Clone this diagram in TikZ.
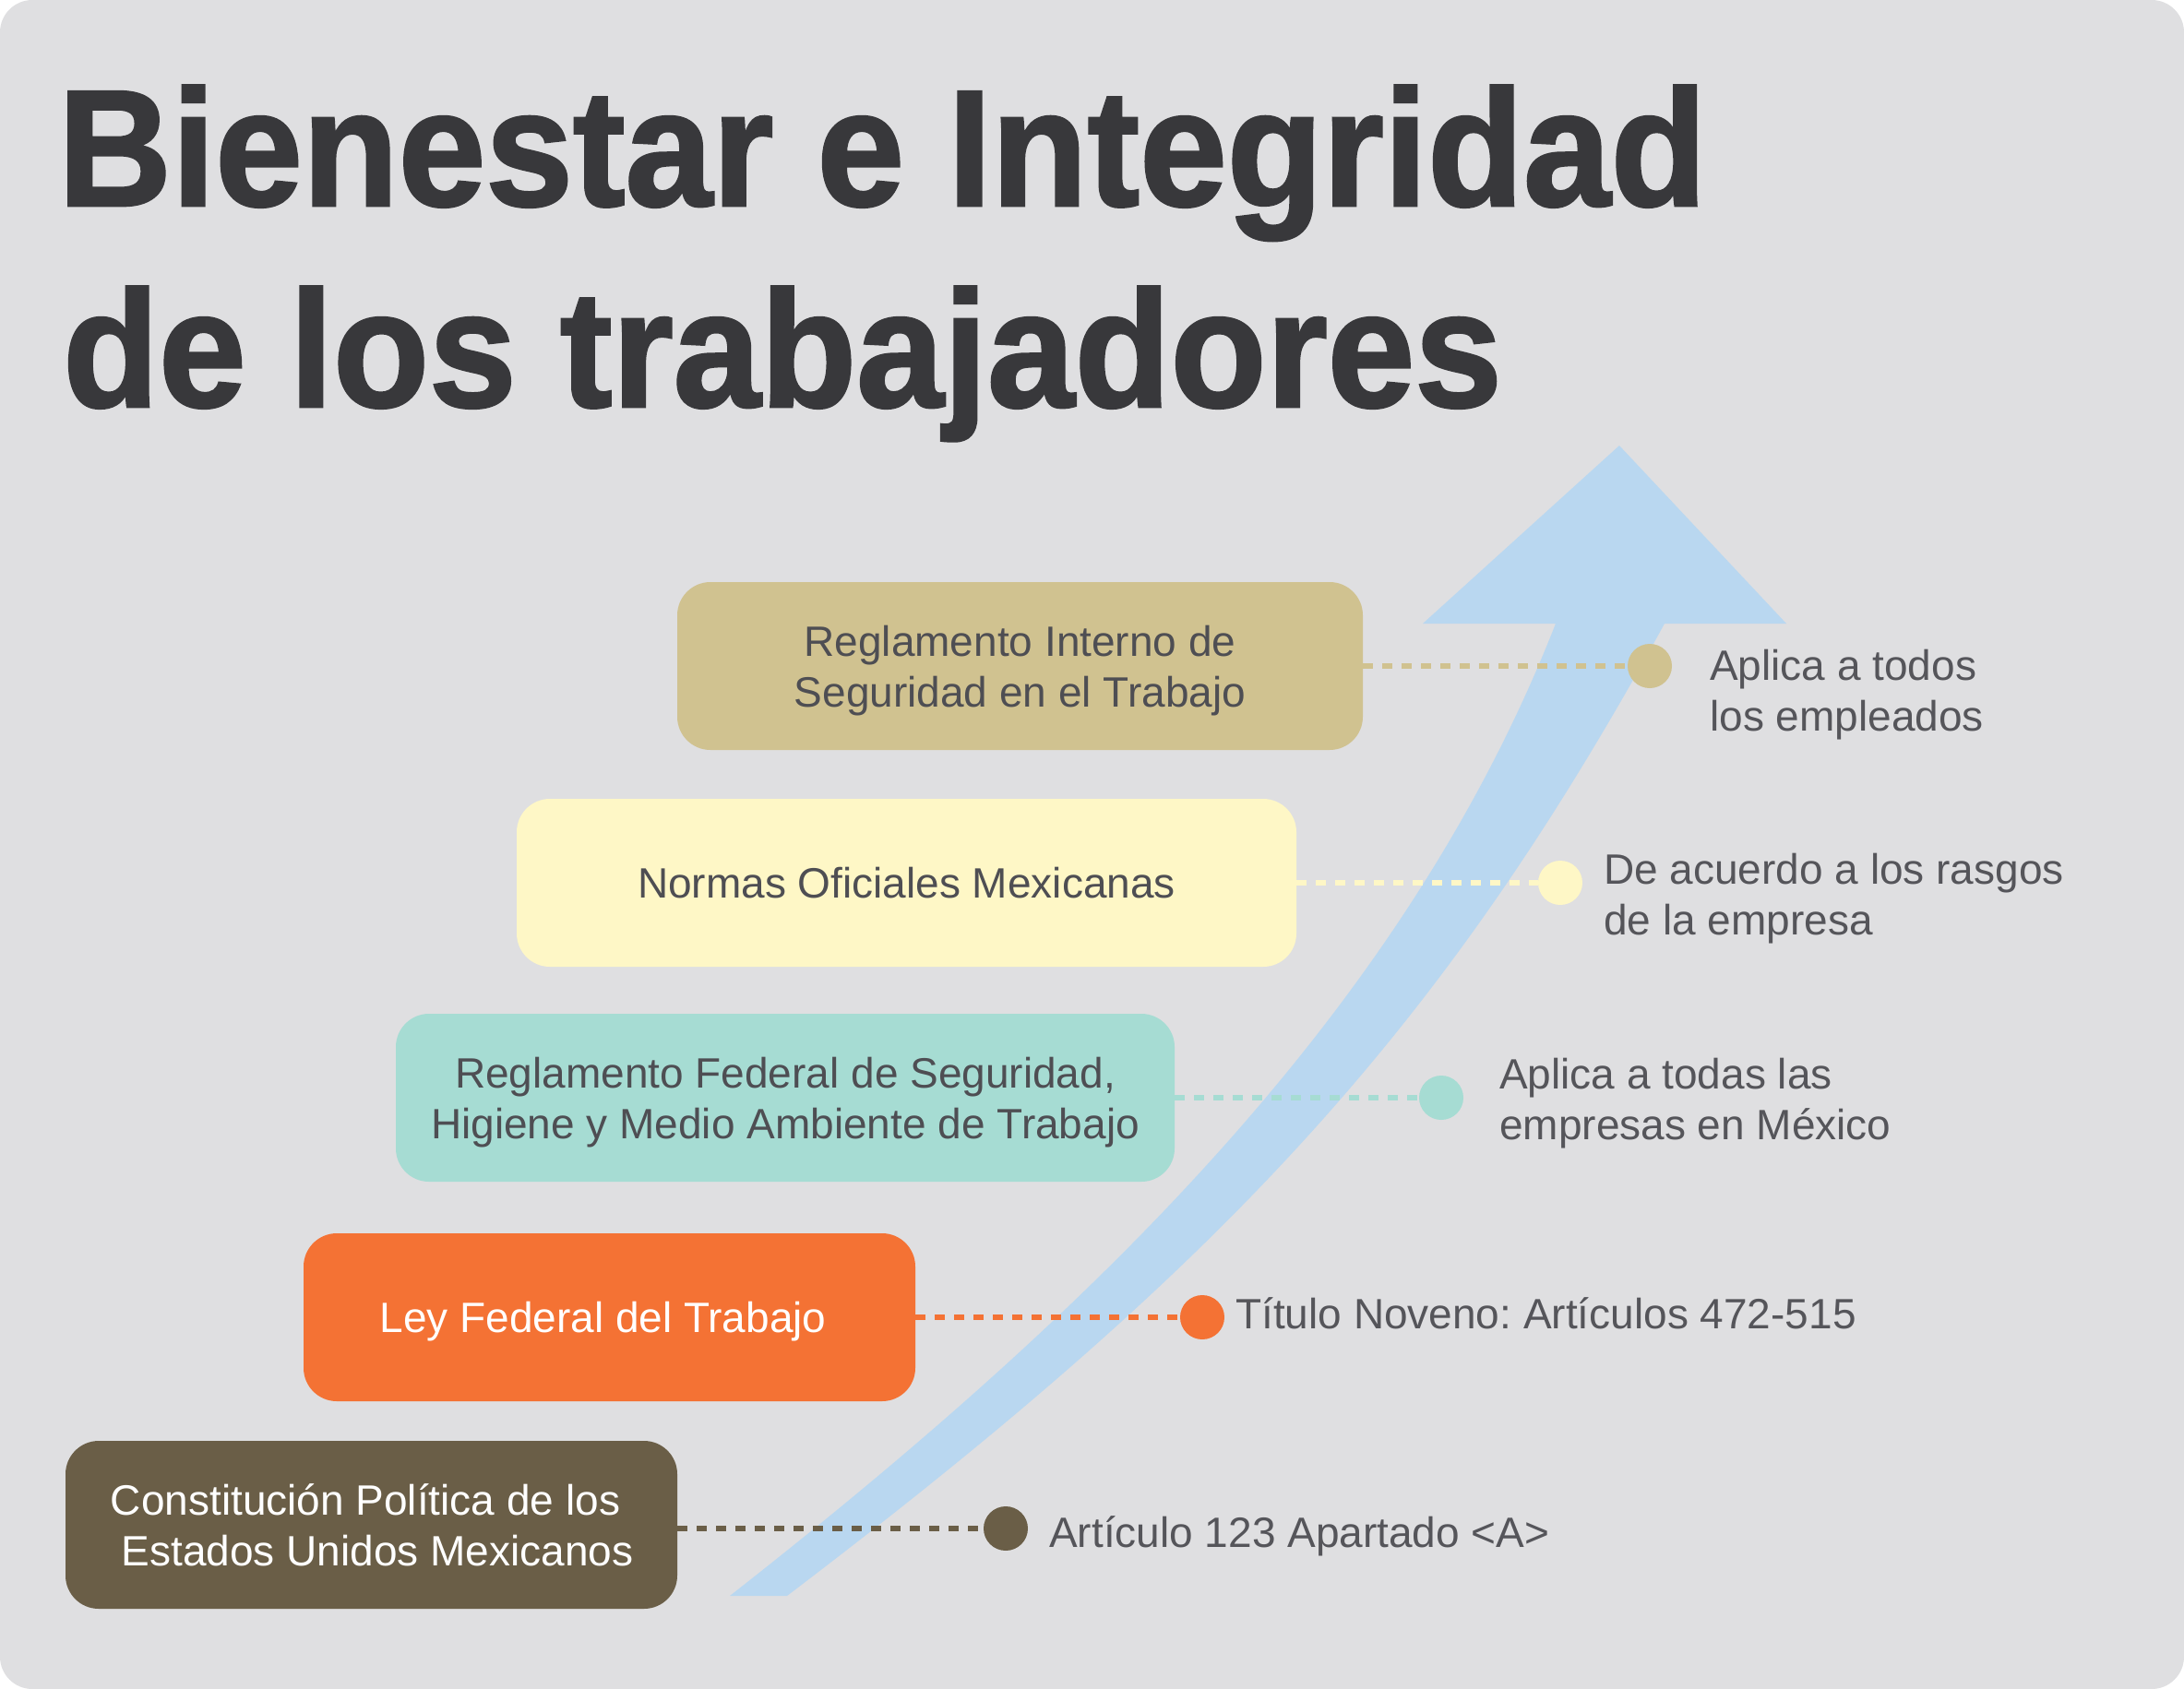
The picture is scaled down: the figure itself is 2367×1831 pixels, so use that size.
\documentclass[tikz,border=0pt]{standalone}
\usepackage{fontspec}
\setmainfont{Liberation Sans}
\newfontfamily\titlefont[FakeStretch=0.945,FakeBold=1.5]{Liberation Sans Bold}
\newcommand\bodyfont{\fontsize{46}{55}\selectfont}
\newcommand\twol[2]{\vtop{\baselineskip=55pt\lineskiplimit=-200pt\lineskip=0pt\halign{\hfil##\hfil\cr#1\cr#2\cr}}}
\newcommand\twoll[2]{\vtop{\baselineskip=55pt\lineskiplimit=-200pt\lineskip=0pt\halign{##\hfil\cr#1\cr#2\cr}}}
\definecolor{bgc}{HTML}{DFDFE1}
\definecolor{arrowc}{HTML}{B9D7F0}
\definecolor{cA}{HTML}{D0C290}
\definecolor{cB}{HTML}{FEF7C6}
\definecolor{cC}{HTML}{A6DCD3}
\definecolor{cD}{HTML}{F47234}
\definecolor{cE}{HTML}{6A5E47}
\definecolor{txt}{HTML}{55555A}
\definecolor{boxtxt}{HTML}{4E4E53}
\definecolor{titlec}{HTML}{38383B}
\frenchspacing
\begin{document}
\begin{tikzpicture}[x=1pt,y=-1pt,
  stepbox/.style={rectangle, rounded corners=36pt, minimum height=182pt, inner sep=0pt, font=\bodyfont},
  boxtwo/.style={text height=30pt, text depth=52pt},
  boxone/.style={text height=33pt, text depth=0pt},
  dotn/.style={circle, minimum size=48pt, inner sep=0pt},
  link/.style={line width=6pt, dash pattern=on 11pt off 10pt},
  lbl/.style={anchor=base west, inner sep=0pt, text=txt, font=\bodyfont},
  ttl/.style={anchor=base west, inner sep=0pt, text=titlec, font=\titlefont\fontsize{180}{180}\selectfont}]
\useasboundingbox (0,0) rectangle (2367,1831);
\fill[bgc, rounded corners=35pt] (0,0) rectangle (2367,1831);

% title
\node[ttl] (t1) at (63,223) {Bienestar e Integridad};
\node[ttl] (t2) at (68,441) {de los trabajadores};

% arrow
\fill[arrowc] (791,1730) .. controls (1184.5,1421.5) and (1522,1095) .. (1686,676)
  -- (1542,676) -- (1755,483) -- (1936,676) -- (1804,676)
  .. controls (1564,1114.5) and (1330.6,1367) .. (853,1730)
  -- cycle;

% boxes
\node[stepbox, boxtwo, fill=cA, minimum width=743pt, text=boxtxt] (b1) at (1105.5,722) {\twol{Reglamento Interno de}{Seguridad en el Trabajo}};
\node[stepbox, boxone, fill=cB, minimum width=845pt, text=boxtxt] (b2) at (982.5,957) {Normas Oficiales Mexicanas};
\node[stepbox, boxtwo, fill=cC, minimum width=844pt, text=boxtxt] (b3) at (851,1190) {\twol{Reglamento Federal de Seguridad,}{Higiene y Medio Ambiente de Trabajo}};
\node[stepbox, boxone, fill=cD, minimum width=663pt, text=white] (b4) at (660.5,1428) {Ley Federal del Trabajo\hspace*{14pt}};
\node[stepbox, boxtwo, fill=cE, minimum width=663pt, text=white] (b5) at (402.5,1653) {\twol{Constitución Política de los\hspace*{13pt}}{\hspace*{13pt}Estados Unidos Mexicanos}};

% dots
\node[dotn, fill=cA] (d1) at (1788,722) {};
\node[dotn, fill=cB] (d2) at (1691,957) {};
\node[dotn, fill=cC] (d3) at (1562,1190) {};
\node[dotn, fill=cD] (d4) at (1303,1428) {};
\node[dotn, fill=cE] (d5) at (1090,1657) {};

% connectors
\draw[link, draw=cA] (b1.east) -- (d1.west);
\draw[link, draw=cB] (b2.east) -- (d2.west);
\draw[link, draw=cC] (b3.east) -- (d3.west);
\draw[link, draw=cD] (b4.east) -- (d4.west);
\draw[link, draw=cE] (b5.east |- d5.west) -- (d5.west);

% labels
\node[lbl] (l1) at (1853,737) {\twoll{Aplica a todos}{los empleados}};
\node[lbl] (l2) at (1738,958) {\twoll{De acuerdo a los rasgos}{de la empresa}};
\node[lbl] (l3) at (1625,1180) {\twoll{Aplica a todas las}{empresas en México}};
\node[lbl] (l4) at (1339,1440) {Título Noveno: Artículos 472-515};
\node[lbl] (l5) at (1137,1677) {Artículo 123 Apartado <A>};
\end{tikzpicture}
\end{document}
